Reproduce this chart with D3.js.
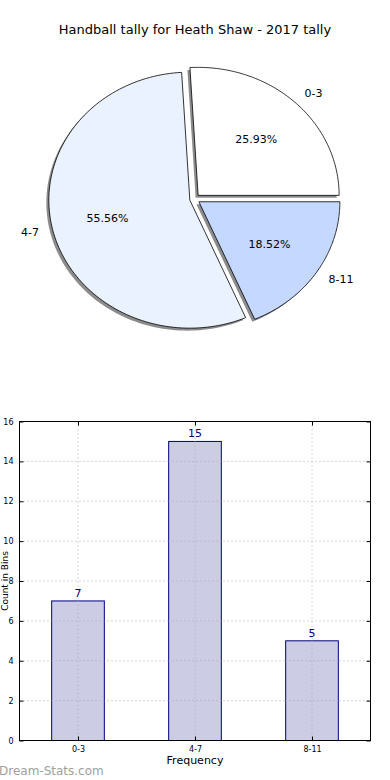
<!DOCTYPE html>
<html><head><meta charset="utf-8">
<script src="https://cdn.jsdelivr.net/npm/d3@7"></script>
<style>body{margin:0;background:#fff;} svg{display:block;font-family:"DejaVu Sans",sans-serif;}</style>
</head><body>
<svg id="c" width="390" height="780"></svg>
<script>
const categories = ["0-3", "4-7", "8-11"];
const counts = [7, 15, 5];
const pieColors = ["#ffffff", "#ebf2ff", "#c5d8ff"];
const yTicks = [0, 2, 4, 6, 8, 10, 12, 14, 16];
const title = "Handball tally for Heath Shaw - 2017 tally";

const svg = d3.select("#c");
svg.append("rect").attr("width",390).attr("height",780).attr("fill","#fff");

svg.append("text").attr("x",195).attr("y",34).attr("text-anchor","middle")
  .attr("font-size",13).attr("fill","#000").text(title);

// Pie (matplotlib style: start at east, counterclockwise, elliptical)
const cx = 194.7, cy = 199, rx = 141, ry = 128, explode = 5;
const total = d3.sum(counts);
const pie = d3.pie().sort(null).value(d=>d)
  .startAngle(Math.PI/2).endAngle(Math.PI/2 - 2*Math.PI);
const arcs = pie(counts);
function slicePath(a0, a1, ox, oy) {
  const n = 120, pts = [[ox, oy]];
  for (let i=0;i<=n;i++){
    const a = a0 + (a1-a0)*i/n;
    const t = Math.PI/2 - a;
    pts.push([ox + rx*Math.cos(t), oy - ry*Math.sin(t)]);
  }
  return "M" + pts.map(p=>p[0].toFixed(2)+","+p[1].toFixed(2)).join("L") + "Z";
}
const g = svg.append("g");
const info = arcs.map((a,i)=>{
  const mid = Math.PI/2 - (a.startAngle + a.endAngle)/2;
  const ox = cx + explode*Math.cos(mid), oy = cy - explode*Math.sin(mid);
  return {a, i, mid, ox, oy};
});
info.forEach(d=>{
  g.append("path").attr("d", slicePath(d.a.startAngle, d.a.endAngle, d.ox-2.5, d.oy+2.5))
    .attr("fill","#000").attr("fill-opacity",0.45).attr("stroke","none");
});
info.forEach(d=>{
  g.append("path").attr("d", slicePath(d.a.startAngle, d.a.endAngle, d.ox, d.oy))
    .attr("fill", pieColors[d.i]).attr("stroke","#000").attr("stroke-width",0.8)
    .attr("stroke-linejoin","round");
});
info.forEach(d=>{
  const lx = d.ox + 1.1*rx*Math.cos(d.mid), ly = d.oy - 1.1*ry*Math.sin(d.mid);
  g.append("text").attr("x",lx).attr("y",ly).attr("dy","0.35em")
    .attr("text-anchor", Math.cos(d.mid) >= 0 ? "start" : "end")
    .attr("font-size",11).attr("fill","#000").text(categories[d.i]);
  const px = d.ox + 0.6*rx*Math.cos(d.mid), py = d.oy - 0.6*ry*Math.sin(d.mid);
  g.append("text").attr("x",px).attr("y",py).attr("dy","0.35em")
    .attr("text-anchor","middle").attr("font-size",11).attr("fill","#000")
    .text((counts[d.i]/total*100).toFixed(2)+"%");
});

// Bar chart
const L = 19.5, R = 370.5, T = 421.5, B = 740.5;
const x = d3.scaleLinear().domain([-0.5, 2.5]).range([L, R]);
const y = d3.scaleLinear().domain([0, 16]).range([B, T]);
const bw = 0.45;
const bg = svg.append("g");
yTicks.forEach(t=>{
  bg.append("line").attr("x1",L).attr("x2",R).attr("y1",y(t)).attr("y2",y(t))
    .attr("stroke","#b0b0b0").attr("stroke-width",1).attr("stroke-dasharray","1,3");
});
categories.forEach((c,i)=>{
  bg.append("line").attr("x1",x(i)).attr("x2",x(i)).attr("y1",T).attr("y2",B)
    .attr("stroke","#b0b0b0").attr("stroke-width",1).attr("stroke-dasharray","1,3");
});
counts.forEach((v,i)=>{
  bg.append("rect").attr("x",x(i-bw/2)).attr("y",y(v))
    .attr("width",x(i+bw/2)-x(i-bw/2)).attr("height",y(0)-y(v))
    .attr("fill","#ccccE5").attr("stroke","#000080").attr("stroke-width",1);
  bg.append("text").attr("x",x(i)).attr("y",y(v)-4).attr("text-anchor","middle")
    .attr("font-size",11).attr("fill","#000080").text(v);
});
categories.forEach((c,i)=>{
  bg.append("line").attr("x1",x(i)).attr("x2",x(i)).attr("y1",y(counts[i])).attr("y2",B)
    .attr("stroke","#a8a8b8").attr("stroke-width",1).attr("stroke-dasharray","1,3");
});
yTicks.forEach(t=>{
  counts.forEach((v,i)=>{ if (t > 0 && t < v) bg.append("line").attr("x1",x(i-bw/2)).attr("x2",x(i+bw/2))
    .attr("y1",y(t)).attr("y2",y(t)).attr("stroke","#a8a8b8").attr("stroke-dasharray","1,3"); });
});
bg.append("rect").attr("x",L).attr("y",T).attr("width",R-L).attr("height",B-T)
  .attr("fill","none").attr("stroke","#000").attr("stroke-width",1);
const yAxisL = d3.axisLeft(y).tickValues(yTicks).tickSize(-4).tickPadding(6).tickFormat(d3.format("d"));
const ga = bg.append("g").attr("transform",`translate(${L},0)`).call(yAxisL);
ga.select(".domain").remove();
ga.selectAll("text").attr("font-size",8).attr("font-family","DejaVu Sans").attr("fill","#000");
const yAxisR = d3.axisRight(y).tickValues(yTicks).tickSize(-4).tickFormat("");
const gr = bg.append("g").attr("transform",`translate(${R},0)`).call(yAxisR);
gr.select(".domain").remove();
const xAxis = d3.axisBottom(x).tickValues([0,1,2]).tickSize(-4).tickPadding(6).tickFormat(i=>categories[i]);
const gx = bg.append("g").attr("transform",`translate(0,${B})`).call(xAxis);
gx.select(".domain").remove();
gx.selectAll("text").attr("font-size",8).attr("font-family","DejaVu Sans").attr("fill","#000");
const xAxisT = d3.axisTop(x).tickValues([0,1,2]).tickSize(-4).tickFormat("");
const gt = bg.append("g").attr("transform",`translate(0,${T})`).call(xAxisT);
gt.select(".domain").remove();
bg.selectAll(".tick line").attr("stroke","#000");

svg.append("text").attr("x",(L+R)/2).attr("y",764).attr("text-anchor","middle")
  .attr("font-size",11).attr("fill","#000").text("Frequency");
svg.append("text").attr("transform",`translate(8,${(T+B)/2}) rotate(-90)`)
  .attr("text-anchor","middle").attr("font-size",9).attr("fill","#000").text("Count in Bins");
svg.append("text").attr("x",-1).attr("y",775).attr("font-size",12)
  .attr("fill","#a0a0a0").text("Dream-Stats.com");
</script>
</body></html>
